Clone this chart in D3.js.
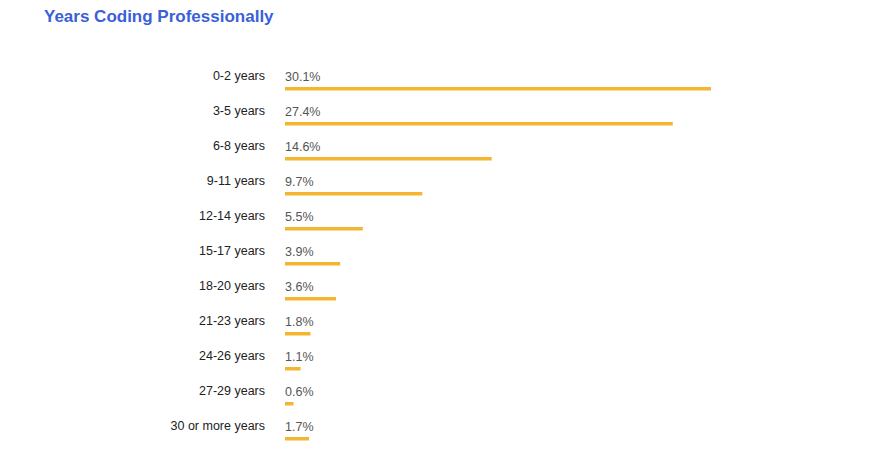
<!DOCTYPE html>
<html><head><meta charset="utf-8">
<script src="https://cdn.jsdelivr.net/npm/d3@7"></script>
<style>body{margin:0;background:#fff;font-family:"Liberation Sans",Arial,sans-serif}</style>
</head><body><div id="chart"></div>
<script>
const categories = ["0-2 years","3-5 years","6-8 years","9-11 years","12-14 years","15-17 years","18-20 years","21-23 years","24-26 years","27-29 years","30 or more years"];
const values = [30.1,27.4,14.6,9.7,5.5,3.9,3.6,1.8,1.1,0.6,1.7];

const width = 883, height = 463;
const svg = d3.select("#chart").append("svg").attr("width", width).attr("height", height);

svg.append("text").attr("x", 44).attr("y", 22)
  .attr("fill", "#3a5fd9").attr("font-size", 17).attr("font-weight", "bold")
  .text("Years Coding Professionally");

const x = d3.scaleLinear().domain([0, 30.1]).range([285, 711]);
const y = d3.scaleBand().domain(categories).range([59, 444]);

const row = svg.selectAll("g.row").data(categories).enter().append("g")
  .attr("transform", d => "translate(0," + y(d) + ")");

row.append("text").attr("x", 265).attr("y", 21).attr("text-anchor", "end")
  .attr("font-size", 12.5).attr("fill", "#222").text(d => d);

row.append("text").attr("x", 285).attr("y", 22)
  .attr("font-size", 12.5).attr("fill", "#555")
  .text((d, i) => values[i].toFixed(1) + "%");

row.append("rect").attr("x", x(0)).attr("y", 28).attr("height", 3.5)
  .attr("width", (d, i) => x(values[i]) - x(0)).attr("fill", "#f4b530");
</script></body></html>
